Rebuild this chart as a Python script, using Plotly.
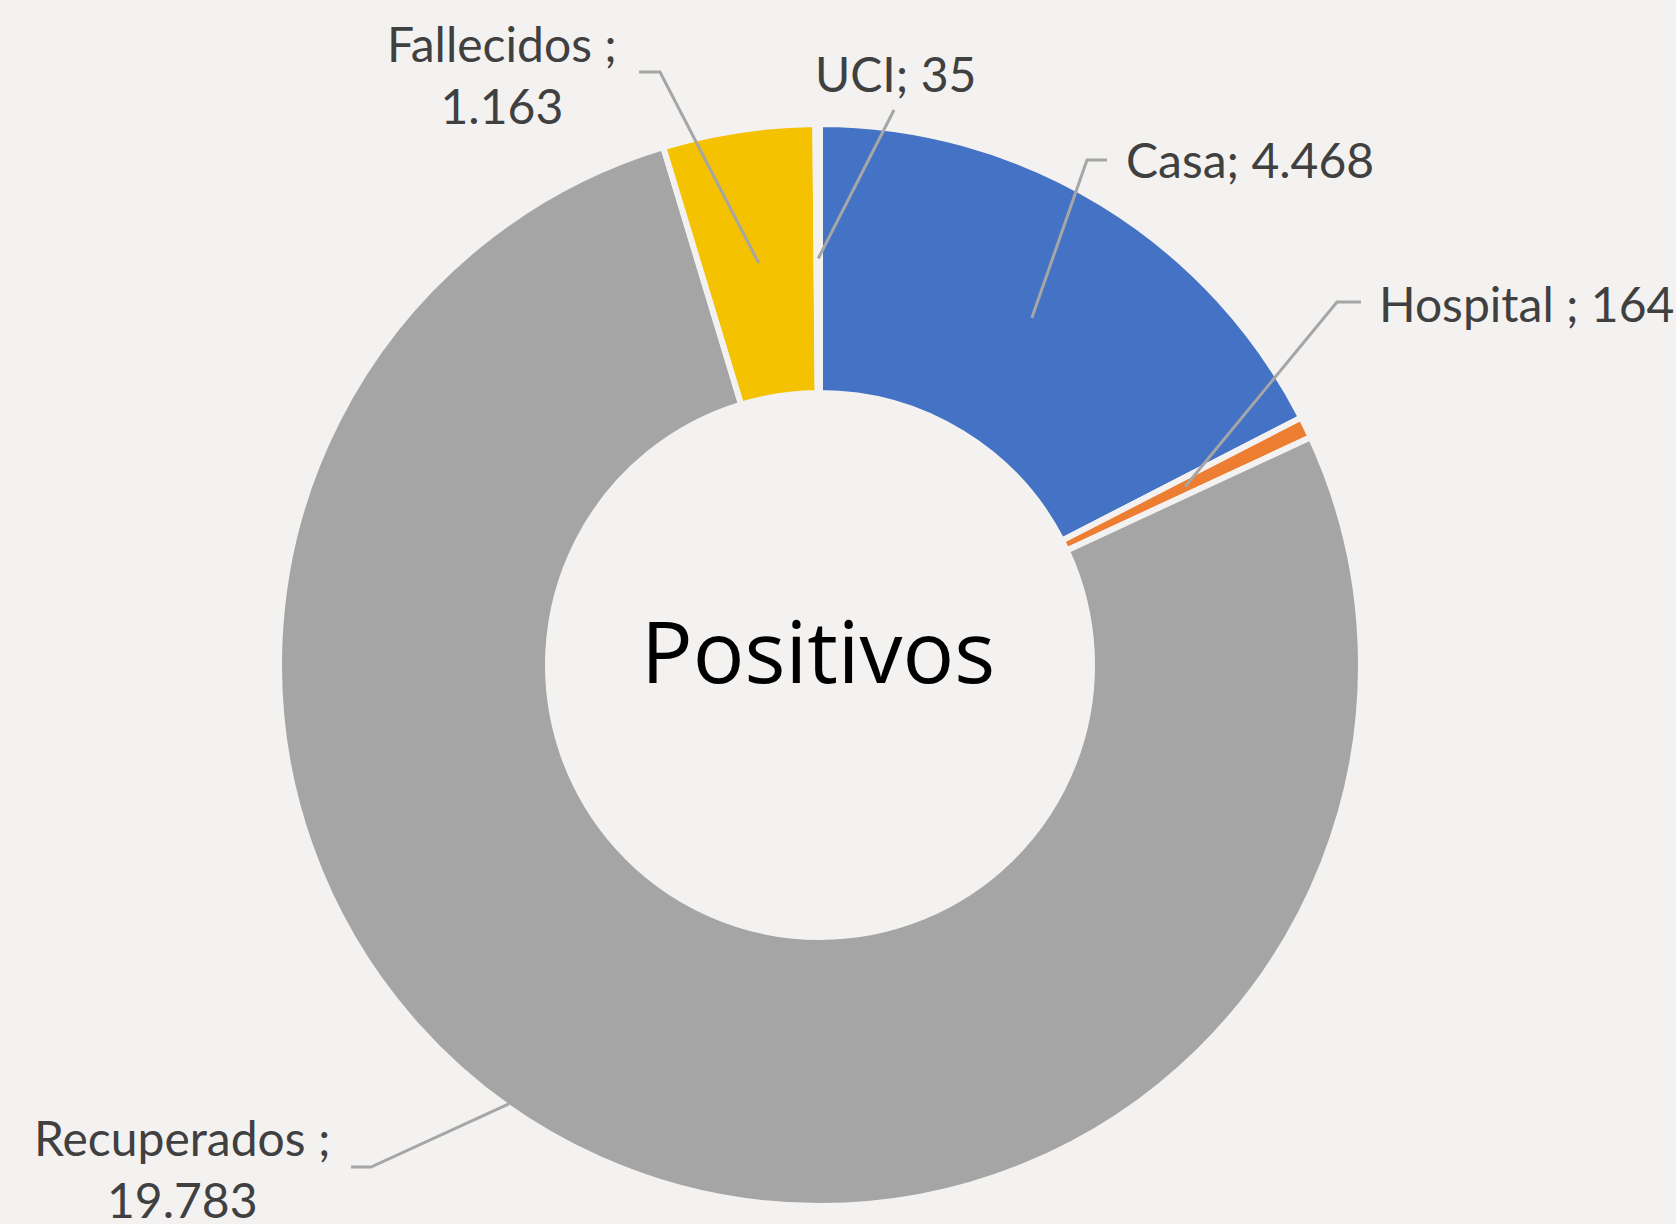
import math
import plotly.graph_objects as go

# ---- data ----
labels = ["Casa", "Hospital ", "Recuperados ", "Fallecidos ", "UCI"]
values = [4468, 164, 19783, 1163, 35]
value_text = ["4.468", "164", "19.783", "1.163", "35"]
colors = ["#4472C4", "#ED7D31", "#A5A5A5", "#F4C200", "#5B9BD5"]
center_label = "Positivos"

# ---- layout (pixels) ----
W, H = 1676, 1224
CX, CY = 820, 665
R_OUT, R_IN = 541, 272
BG = "#F3F2F1"
TXT = "#404040"
LINE = "#A6A6A6"
FONT = "Lato, 'Open Sans', sans-serif"

# per-label placement: text anchor (px), alignment, elbow (px), leader radius, angle shift (deg)
label_pos = {
    "Casa":         dict(x=1124, y=160, xanchor="left", text_break=False, elbow=[(1107, 160), (1087, 160)], r=0.5, shift=0),
    "Hospital ":    dict(x=1377, y=303, xanchor="left", text_break=False, elbow=[(1361, 302), (1337, 302)], r=0.5, shift=0),
    "Recuperados ": dict(x=182, y=1168, xanchor="center", text_break=True, elbow=[(351, 1167), (371, 1167)], r=1.0, shift=11.2),
    "Fallecidos ":  dict(x=502, y=74, xanchor="center", text_break=True, elbow=[(639, 72), (660, 72)], r=0.5, shift=0),
    "UCI":          dict(x=895, y=73, xanchor="center", text_break=False, elbow=[(894, 110)], r=0.5, shift=0),
}


def px(x):
    return x / W


def py(y):
    return 1 - y / H


fig = go.Figure()
fig.add_trace(go.Pie(
    labels=labels,
    values=values,
    sort=False,
    direction="clockwise",
    rotation=0,
    hole=R_IN / R_OUT,
    marker=dict(colors=colors, line=dict(color=BG, width=6)),
    textinfo="none",
    hoverinfo="label+value",
    showlegend=False,
    domain=dict(x=[px(CX - R_OUT), px(CX + R_OUT)], y=[py(CY + R_OUT), py(CY - R_OUT)]),
))

total = sum(values)
cum = 0
shapes = []
annotations = []
r_mid_inner = R_IN + 3
r_mid_outer = R_OUT - 3
for lab, v, vt in zip(labels, values, value_text):
    frac_mid = (cum + v / 2) / total
    cum += v
    cfg = label_pos[lab]
    ang = 2 * math.pi * frac_mid + math.radians(cfg["shift"])
    rr = r_mid_inner + (r_mid_outer - r_mid_inner) * cfg["r"]
    sx = CX + rr * math.sin(ang)
    sy = CY - rr * math.cos(ang)
    pts = cfg["elbow"] + [(sx, sy)]
    path = "M " + " L ".join(f"{px(a):.5f},{py(b):.5f}" for a, b in pts)
    shapes.append(dict(type="path", path=path, xref="paper", yref="paper",
                       line=dict(color=LINE, width=3), layer="above"))
    sep = "<br>" if cfg["text_break"] else ""
    annotations.append(dict(
        x=px(cfg["x"]), y=py(cfg["y"]), xref="paper", yref="paper",
        text=f"{lab};{sep}{vt}" if sep else f"{lab}; {vt}",
        showarrow=False, xanchor=cfg["xanchor"], yanchor="middle", align="center",
        font=dict(family=FONT, size=48, color=TXT),
    ))

annotations.append(dict(
    x=px(CX - 2), y=py(CY - 16), xref="paper", yref="paper", text=center_label,
    showarrow=False, xanchor="center", yanchor="middle",
    font=dict(family="'Open Sans', sans-serif", size=86, color="#000000"),
))

fig.update_layout(
    width=W, height=H,
    margin=dict(l=0, r=0, t=0, b=0),
    paper_bgcolor=BG, plot_bgcolor=BG,
    shapes=shapes, annotations=annotations,
    showlegend=False,
)

fig.write_html("out.html", config={"displayModeBar": False},
               post_script="document.body.style.margin='0';")
